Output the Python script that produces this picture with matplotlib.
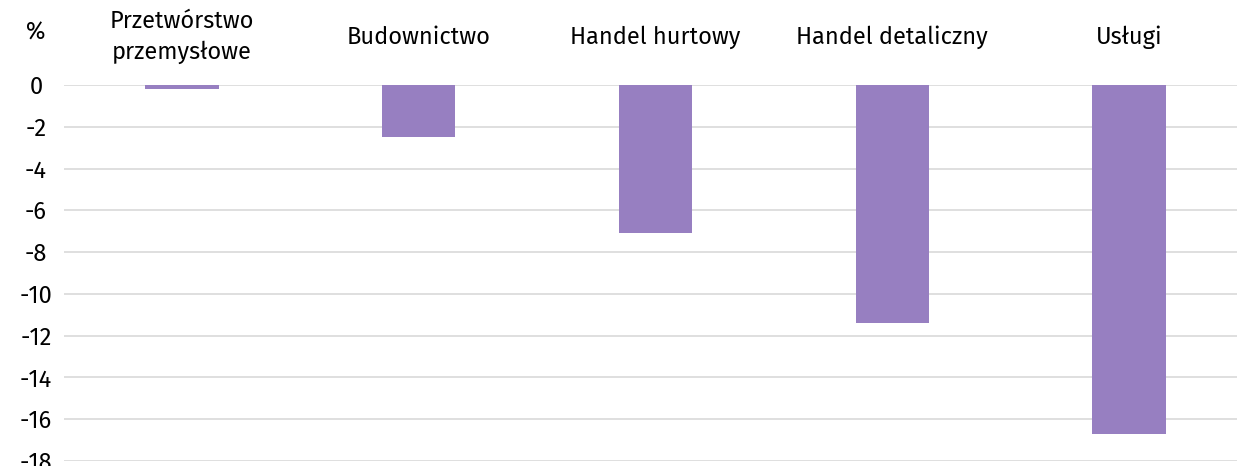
import matplotlib.pyplot as plt
import numpy as np

categories = ['Przetwórstwo\nprzemysłowe', 'Budownictwo', 'Handel hurtowy',
              'Handel detaliczny', 'Usługi']
values = [-0.2, -2.5, -7.1, -11.4, -16.7]
yticks = list(range(0, -19, -2))

plt.rcParams['font.family'] = ['Fira Sans', 'Open Sans', 'DejaVu Sans']

fig = plt.figure(figsize=(12.37, 4.66), dpi=100)
ax = fig.add_axes([63.6 / 1237, 5 / 466, (1247.4 - 63.6) / 1237, 376 / 466])

x = np.arange(len(categories))
ax.bar(x, values, width=0.31, color='#977fc1', zorder=3)

ax.set_xlim(-0.5, len(categories) - 0.5)
ax.set_ylim(-18, 0)
ax.set_yticks(yticks)
ax.set_yticklabels([str(v) for v in yticks])
ax.yaxis.grid(True, color='#d9d9d9', linewidth=1.2, zorder=0)
ax.set_xticks([])
ax.tick_params(axis='y', length=0, pad=20, labelsize=17)
for lab in ax.get_yticklabels():
    lab.set_ha('center')
for s in ax.spines.values():
    s.set_visible(False)

for i, c in enumerate(categories):
    ax.text(i, 1 + 48 / 376, c, transform=ax.get_xaxis_transform(),
            ha='center', va='center', fontsize=17, linespacing=1.4)

fig.text(36 / 1237, 1 - 33 / 466, '%', ha='center', va='center', fontsize=17)

fig.savefig('out.png', dpi=100)
